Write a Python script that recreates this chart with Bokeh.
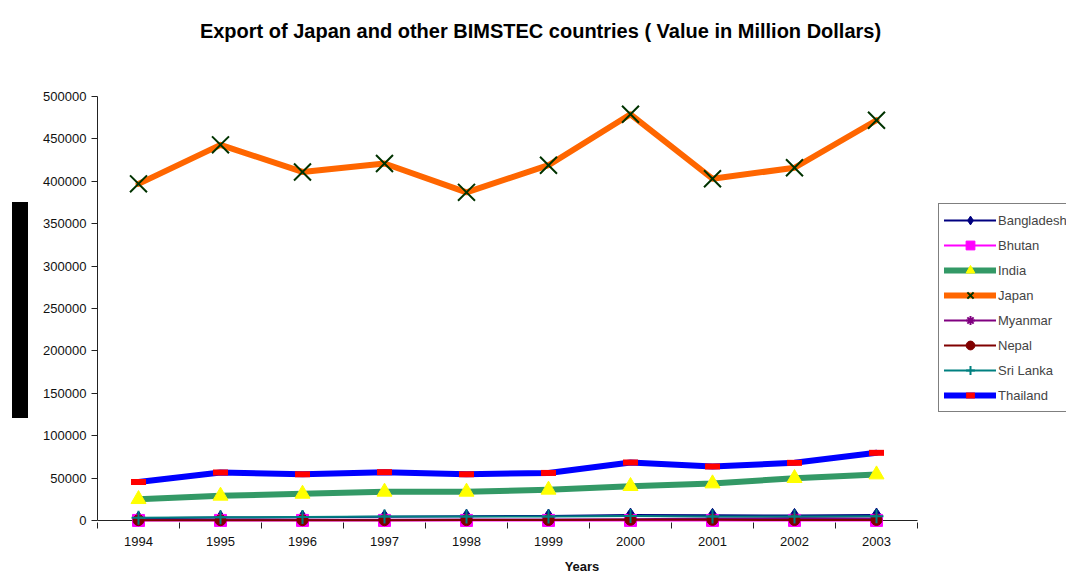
from bokeh.plotting import figure
from bokeh.models import (Range1d, FixedTicker, NumeralTickFormatter, Legend, LegendItem,
                          Label, ColumnDataSource, Div)
from bokeh.layouts import row
from bokeh.embed import file_html
from bokeh.resources import INLINE

years = [1994, 1995, 1996, 1997, 1998, 1999, 2000, 2001, 2002, 2003]
year_labels = [str(y) for y in years]

bangladesh = [2700, 3500, 3900, 4400, 5100, 5300, 6400, 6100, 6000, 6500]
bhutan = [70, 100, 100, 110, 110, 115, 100, 110, 120, 130]
india = [25100, 29100, 31400, 33800, 33800, 36200, 40500, 43600, 49900, 54200]
japan = [397000, 443000, 411000, 421000, 387000, 419000, 479000, 403000, 416000, 472000]
myanmar = [900, 1000, 900, 900, 1100, 1100, 1600, 2400, 3000, 2500]
nepal = [400, 350, 390, 400, 480, 600, 800, 740, 570, 650]
srilanka = [3200, 3800, 4100, 4600, 4800, 4600, 5400, 4800, 4700, 5100]
thailand = [45300, 56500, 54500, 57000, 54500, 56100, 68400, 63700, 68000, 79800]

y_ticks = list(range(0, 500001, 50000))
y_max = 500000

FONT = "Liberation Sans"

PAGE_W, PAGE_H = 1066, 576
STRIP_W = 28                       # narrow strip on the left holding the dark y-title box
FRAME_LEFT = 97                    # page x of the y axis
ZERO_Y = 520                       # page y of value 0 (the x axis line)
FRAME_BOTTOM = 528                 # frame goes a little below zero so markers are not cut
AXIS_TOP = 96                      # page y of the top y tick
AXIS_RIGHT = 917                   # page x where the category axis ends
BOTTOM = PAGE_H - FRAME_BOTTOM

px_per_unit = (ZERO_Y - AXIS_TOP) / y_max
x0 = years[0] - 0.5
x_axis_end = years[-1] + 0.5
x_end = x0 + (x_axis_end - x0) * (PAGE_W - FRAME_LEFT) / (AXIS_RIGHT - FRAME_LEFT)
y_start = -(FRAME_BOTTOM - ZERO_Y) / px_per_unit
y_end = ZERO_Y / px_per_unit

p = figure(width=PAGE_W - STRIP_W, height=PAGE_H, output_backend="svg", toolbar_location=None,
           x_range=Range1d(x0, x_end), y_range=Range1d(y_start, y_end),
           min_border_left=FRAME_LEFT - STRIP_W, min_border_right=0,
           min_border_top=0, min_border_bottom=BOTTOM)
p.grid.visible = False
p.outline_line_color = None
p.background_fill_color = "white"
p.border_fill_color = "white"

# x axis line at value 0
p.segment(x0=[x0], y0=[0], x1=[x_axis_end], y1=[0], line_color="#222222", line_width=1)

xa = p.xaxis[0]
xa.bounds = (x0, x_axis_end)
xa.ticker = FixedTicker(ticks=years, minor_ticks=[y - 0.5 for y in years] + [x_axis_end])
xa.major_label_overrides = {y: s for y, s in zip(years, year_labels)}
xa.axis_line_color = None
xa.major_tick_out = 0
xa.major_tick_in = 0
xa.minor_tick_out = 0
xa.minor_tick_in = FRAME_BOTTOM - ZERO_Y - 2
xa.minor_tick_line_color = "#222222"
xa.major_label_text_font = FONT
xa.major_label_text_font_size = "13px"
xa.major_label_text_color = "#111111"
xa.major_label_standoff = 8
xa.axis_label = "Years"
xa.axis_label_text_font = FONT
xa.axis_label_text_font_size = "13px"
xa.axis_label_text_font_style = "bold"
xa.axis_label_text_color = "#111111"
xa.axis_label_standoff = 10

ya = p.yaxis[0]
ya.bounds = (0, y_max)
ya.ticker = FixedTicker(ticks=y_ticks)
ya.formatter = NumeralTickFormatter(format="0")
ya.major_tick_out = 6
ya.major_tick_in = 0
ya.minor_tick_line_color = None
ya.axis_line_color = "#222222"
ya.major_tick_line_color = "#222222"
ya.major_label_text_font = FONT
ya.major_label_text_font_size = "13px"
ya.major_label_text_color = "#111111"
ya.major_label_standoff = 5

items = []

def add(name, vals, color, lw, marker, msize, mfill, mline, mlw=1):
    src = ColumnDataSource(dict(x=years, y=vals))
    r1 = p.line("x", "y", source=src, line_color=color, line_width=lw,
                line_cap="round", line_join="round")
    r2 = p.scatter("x", "y", source=src, marker=marker, size=msize,
                   fill_color=mfill, line_color=mline, line_width=mlw)
    items.append(LegendItem(label=name, renderers=[r1, r2]))

add("Bangladesh", bangladesh, "#000080", 2, "diamond", 14, "#000080", "#000080")
add("Bhutan", bhutan, "#FF00FF", 2, "square", 12, "#FF00FF", "#FF00FF")
add("India", india, "#339966", 6, "triangle", 15, "#FFFF00", "#FFFF00")
add("Japan", japan, "#FF6600", 6, "x", 24, None, "#003300", 2)
add("Myanmar", myanmar, "#800080", 2, "asterisk", 10, None, "#800080", 2)
add("Nepal", nepal, "#800000", 2, "circle", 11, "#800000", "#800000")
add("Sri Lanka", srilanka, "#008080", 2, "cross", 14, None, "#008080", 2)
add("Thailand", thailand, "#0000FF", 6, "dash", 15, None, "#FF0000", 6)

legend = Legend(items=items, location=(938 - FRAME_LEFT, FRAME_BOTTOM - 412), orientation="vertical",
                border_line_color="black", border_line_width=1,
                background_fill_color="white", background_fill_alpha=1,
                label_text_font=FONT, label_text_font_size="13px",
                glyph_width=52, glyph_height=22, label_height=22, spacing=3,
                padding=5, margin=0, label_standoff=2)
p.add_layout(legend, "center")

title = Label(x=540 - FRAME_LEFT, y=FRAME_BOTTOM - 30, x_units="screen", y_units="screen",
              text="Export of Japan and other BIMSTEC countries ( Value in Million Dollars)",
              text_align="center", text_baseline="middle",
              text_font=FONT, text_font_size="20px", text_font_style="bold",
              text_color="black")
p.add_layout(title)

ybox = Div(text="Value in Million Dollars", width=16, height=216, margin=(202, 0, 0, 12),
           styles={"background-color": "black", "color": "black", "overflow": "hidden",
                   "font-size": "11px", "line-height": "16px", "font-family": FONT,
                   "writing-mode": "vertical-rl", "transform": "rotate(180deg)",
                   "text-align": "center", "white-space": "nowrap"})

layout = row(ybox, p, spacing=0)
open("out.html", "w").write(file_html(layout, INLINE))
